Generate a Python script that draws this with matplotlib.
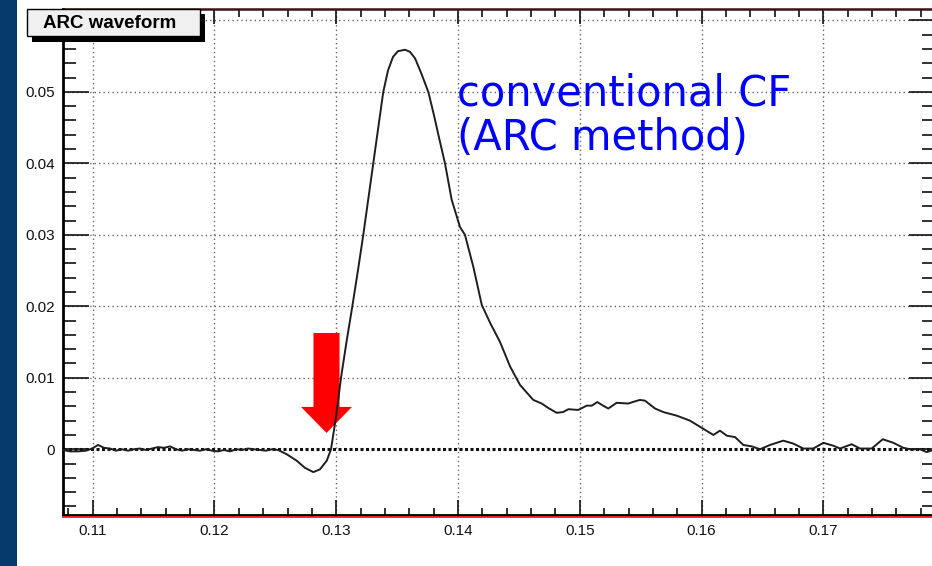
import matplotlib
matplotlib.use("Agg")
import matplotlib.pyplot as plt
from matplotlib.patches import Rectangle
from matplotlib.lines import Line2D
from matplotlib.ticker import MultipleLocator, FuncFormatter

# ----------------------------------------------------------------------------
# Data (time axis, ARC amplitude)
# ----------------------------------------------------------------------------
t_vals = [
    0.10756, 0.10814, 0.10879, 0.10945, 0.10994, 0.11044, 0.11093, 0.11142,
    0.11191, 0.11241, 0.11290, 0.11339, 0.11388, 0.11438, 0.11487, 0.11536,
    0.11586, 0.11635, 0.11684, 0.11733, 0.11783, 0.11832, 0.11881, 0.11930,
    0.11980, 0.12029, 0.12078, 0.12128, 0.12177, 0.12226, 0.12275, 0.12325,
    0.12374, 0.12423, 0.12472, 0.12522, 0.12593, 0.12675, 0.12743, 0.12812,
    0.12867, 0.12922, 0.12957, 0.12998, 0.13039, 0.13084, 0.13132, 0.13178,
    0.13222, 0.13263, 0.13304, 0.13345, 0.13386, 0.13425, 0.13466, 0.13507,
    0.13565, 0.13606, 0.13647, 0.13696, 0.13756, 0.13803, 0.13852, 0.13893,
    0.13948, 0.14016, 0.14057, 0.14126, 0.14195, 0.14263, 0.14345, 0.14427,
    0.14509, 0.14618, 0.14687, 0.14739, 0.14810, 0.14862, 0.14906, 0.14988,
    0.15057, 0.15098, 0.15144, 0.15191, 0.15234, 0.15303, 0.15398, 0.15453,
    0.15494, 0.15535, 0.15618, 0.15686, 0.15796, 0.15905, 0.16001, 0.16097,
    0.16151, 0.16207, 0.16275, 0.16343, 0.16412, 0.16480, 0.16562, 0.16671,
    0.16753, 0.16836, 0.16918, 0.17000, 0.17082, 0.17137, 0.17233, 0.17301,
    0.17397, 0.17488, 0.17575, 0.17657, 0.17712, 0.17794, 0.17849, 0.17917,
]
amp_vals = [
    -0.0001, -0.0003, -0.0003, -0.0002, 0.0001, 0.0006, 0.0002, 0.0001,
    -0.0002, 0.0000, -0.0002, 0.0000, 0.0001, -0.0001, 0.0001, 0.0003,
    0.0002, 0.0004, 0.0000, -0.0002, 0.0000, -0.0001, -0.0002, 0.0000,
    -0.0002, -0.0003, -0.0001, -0.0003, 0.0000, -0.0001, 0.0001, 0.0000,
    -0.0001, -0.0002, 0.0000, -0.0001, -0.0007, -0.0016, -0.0026, -0.0032,
    -0.0028, -0.0016, 0.0000, 0.0045, 0.0100, 0.0150, 0.0200, 0.0250,
    0.0300, 0.0350, 0.0400, 0.0450, 0.0500, 0.0530, 0.0549, 0.0557,
    0.0559, 0.0556, 0.0547, 0.0527, 0.0500, 0.0467, 0.0430, 0.0400,
    0.0349, 0.0311, 0.0300, 0.0255, 0.0202, 0.0177, 0.0150, 0.0116,
    0.0090, 0.0069, 0.0064, 0.0058, 0.0051, 0.0052, 0.0056, 0.0055,
    0.0061, 0.0061, 0.0066, 0.0061, 0.0057, 0.0065, 0.0064, 0.0067,
    0.0069, 0.0068, 0.0057, 0.0052, 0.0047, 0.0040, 0.0030, 0.0020,
    0.0026, 0.0019, 0.0017, 0.0006, 0.0004, 0.0000, 0.0006, 0.0012,
    0.0008, 0.0001, 0.0001, 0.0009, 0.0005, 0.0001, 0.0007, 0.0001,
    0.0001, 0.0014, 0.0009, 0.0002, 0.0000, 0.0000, -0.0004, 0.0000,
]

x_major = [0.11, 0.12, 0.13, 0.14, 0.15, 0.16, 0.17]
y_major = [0.0, 0.01, 0.02, 0.03, 0.04, 0.05, 0.06]

TITLE = "ARC waveform"
NOTE_LINES = ["conventional CF", "(ARC method)"]

# marker arrow (points at the constant-fraction crossing)
ARROW_X = 0.1292
ARROW_TIP = 0.00228
ARROW_HEAD_BASE = 0.00592
ARROW_TOP = 0.01627
ARROW_SHAFT_HW = 0.00107
ARROW_HEAD_HW = 0.00209

# ----------------------------------------------------------------------------
# Figure
# ----------------------------------------------------------------------------
W, H = 932, 566
fig = plt.figure(figsize=(W / 100, H / 100), dpi=100, facecolor="white")


def fx(px):
    return px / W


def fy(py):
    return 1 - py / H


# dark blue slide strip on the left
fig.add_artist(Rectangle((0, 0), fx(17), 1, transform=fig.transFigure,
                         facecolor="#073a6c", edgecolor="none", zorder=0))

ax = fig.add_axes([fx(63), fy(515), fx(935 - 63), (515 - 9) / H])
ax.set_xlim(0.10756, 0.17917)
ax.set_ylim(-0.0092, 0.0616)

# grid + zero line
for xv in x_major:
    ax.axvline(xv, color="#666666", lw=1.0, ls=(0, (1, 2.2)), zorder=1)
for yv in y_major[1:]:
    ax.axhline(yv, color="#666666", lw=1.0, ls=(0, (1, 2.2)), zorder=1)
ax.axhline(0, color="#111111", lw=2.2, ls=(0, (1, 0.8)), zorder=1)

# arrow
ax.fill(
    [ARROW_X - ARROW_SHAFT_HW, ARROW_X + ARROW_SHAFT_HW, ARROW_X + ARROW_SHAFT_HW,
     ARROW_X + ARROW_HEAD_HW, ARROW_X, ARROW_X - ARROW_HEAD_HW,
     ARROW_X - ARROW_SHAFT_HW],
    [ARROW_TOP, ARROW_TOP, ARROW_HEAD_BASE, ARROW_HEAD_BASE, ARROW_TIP,
     ARROW_HEAD_BASE, ARROW_HEAD_BASE],
    color="#ff0000", lw=0, zorder=2,
)

# waveform
ax.plot(t_vals, amp_vals, color="#1e1e1e", lw=1.4, zorder=3)

# ticks, ROOT style (inside, on all four sides)
ax.xaxis.set_major_locator(MultipleLocator(0.01))
ax.xaxis.set_minor_locator(MultipleLocator(0.002))
ax.yaxis.set_major_locator(MultipleLocator(0.01))
ax.yaxis.set_minor_locator(MultipleLocator(0.002))


def tick_text(v, pos):
    if abs(v) < 1e-9:
        return "0"
    if v > 0.055:
        return ""  # hidden under the title box in the original
    return f"{v:.2f}"


fmt = FuncFormatter(tick_text)
ax.xaxis.set_major_formatter(FuncFormatter(lambda v, p: f"{v:.2f}"))
ax.yaxis.set_major_formatter(fmt)
ax.tick_params(axis="both", which="both", direction="in",
               top=True, right=True, color="#111111", width=1.2)
ax.tick_params(axis="x", which="major", length=10.8, pad=6.5, labelsize=11)
ax.tick_params(axis="x", which="minor", length=5.4)
ax.tick_params(axis="y", which="major", length=18.7, pad=5.5, labelsize=11)
ax.tick_params(axis="y", which="minor", length=9.4)
for lab in ax.get_xticklabels() + ax.get_yticklabels():
    lab.set_fontfamily("Liberation Sans")
    lab.set_color("#111111")

for side in ["left", "bottom"]:
    ax.spines[side].set_color("black")
    ax.spines[side].set_linewidth(2.0)
ax.spines["top"].set_color("#3a1414")
ax.spines["top"].set_linewidth(1.8)
ax.spines["right"].set_visible(False)

# red line under the bottom frame
fig.add_artist(Line2D([fx(63), 1], [fy(517), fy(517)], color="#ff2020",
                      lw=1.3, transform=fig.transFigure, zorder=3))

# title box with shadow
fig.add_artist(Rectangle((fx(32), fy(42)), fx(173), (42 - 14) / H,
                         transform=fig.transFigure, facecolor="black",
                         edgecolor="none", zorder=4))
fig.add_artist(Rectangle((fx(27), fy(36)), fx(173), (36 - 9) / H,
                         transform=fig.transFigure, facecolor="#f0f0f0",
                         edgecolor="black", lw=1.0, zorder=5))
fig.text(fx(110), fy(24), TITLE, ha="center", va="center", fontsize=13.5,
         fontweight="bold", family="Liberation Sans", color="black", zorder=6)

# blue annotation
fig.text(fx(457), fy(105), NOTE_LINES[0], ha="left", va="baseline",
         fontsize=30, family="DejaVu Sans", color="#0000ff", zorder=6)
fig.text(fx(457), fy(150), NOTE_LINES[1], ha="left", va="baseline",
         fontsize=30, family="DejaVu Sans", color="#0000ff", zorder=6)

fig.savefig("out.png", dpi=100, facecolor="white")
